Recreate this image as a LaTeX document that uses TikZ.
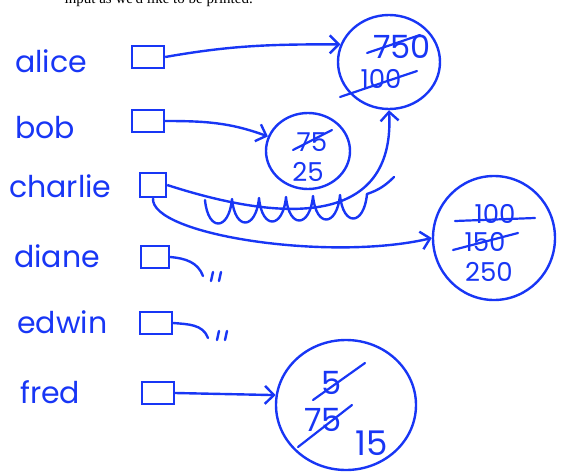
\documentclass[tikz,border=0pt]{standalone}
\usepackage{fontspec}
\newfontfamily\handfont{Poppins}
\newfontfamily\printfont{Liberation Serif}
\usetikzlibrary{
    arrows.meta,
    positioning,
    calc,
    shapes.geometric
}
\definecolor{pen}{RGB}{24,54,245}
\tikzset{
    namelab/.style={
        anchor=base west,
        inner sep=0pt,
        text=pen,
        font=\handfont\fontsize{30}{32}\selectfont
    },
    slot/.style={
        draw=pen,
        rectangle,
        minimum width=32pt,
        minimum height=22pt,
        inner sep=0pt,
        line width=2.4pt
    },
    cell/.style={
        draw=pen,
        ellipse,
        inner sep=0pt,
        line width=2.4pt
    },
    val/.style={
        text=pen,
        inner sep=0pt,
        font=\handfont\fontsize{26}{28}\selectfont
    },
    bigval/.style={
        val,
        font=\handfont\fontsize{32}{34}\selectfont
    },
    ptr/.style={
        draw=pen,
        -{Straight Barb[length=9pt,width=18pt]},
        line width=2.4pt
    },
    penline/.style={
        draw=pen,
        line width=2.4pt,
        line cap=round,
        line join=round
    },
    strike/.style={
        draw=pen,
        line width=2.2pt,
        line cap=round
    }
}

\begin{document}
\begin{tikzpicture}[x=1pt,y=-1pt]
\useasboundingbox (0,0) rectangle (568,474);

% text line cut off at the top
\begin{scope}
\clip (0,0) rectangle (568,7);
\node[anchor=base east, inner sep=0pt, font=\printfont\fontsize{15}{17}\selectfont] (caption) at (253,3) {input as we'd like to be printed.};
\end{scope}

% names
\node[namelab] (lalice) at (15,72) {alice};
\node[namelab] (lbob) at (15,138) {bob};
\node[namelab] (lcharlie) at (9,197) {charlie};
\node[namelab] (ldiane) at (14,267) {diane};
\node[namelab] (ledwin) at (17,333) {edwin};
\node[namelab] (lfred) at (20,403) {fred};

% slots
\node[slot] (balice) at (148,57) {};
\node[slot] (bbob) at (148,121) {};
\node[slot, minimum width=26pt, minimum height=24pt] (bcharlie) at (153,185) {};
\node[slot, minimum width=28pt] (bdiane) at (155,257) {};
\node[slot] (bedwin) at (156,323) {};
\node[slot] (bfred) at (158,393) {};

% value cells
\node[cell, minimum width=102pt, minimum height=94pt] (vA) at (389,62) {};
\node[cell, minimum width=84pt, minimum height=76pt] (vB) at (308,151) {};
\node[cell, minimum width=122pt, minimum height=124pt] (vC) at (494,238) {};
\node[cell, minimum width=140pt, minimum height=130pt] (vD) at (346,405) {};

% values, old ones struck out
\node[bigval] (a1) at (402,47) {750};
\node[val] (a2) at (381,79) {100};
\draw[strike] (367,53) -- (420,35);
\draw[strike] (340,97) -- (417,71);

\node[val] (b1) at (312,142) {75};
\node[val] (b2) at (308,172) {25};
\draw[strike] (293,150) -- (332,130);

\node[val] (c1) at (495,214) {100};
\node[val] (c2) at (485,242) {150};
\node[val] (c3) at (489,272) {250};
\draw[strike] (455,221) -- (535,218);
\draw[strike] (453,250) -- (518,233);

\node[bigval] (d1) at (332,383) {5};
\node[bigval] (d2) at (323,420) {75};
\node[bigval, font=\handfont\fontsize{34}{36}\selectfont] (d3) at (372,443) {15};
\draw[strike] (313,400) -- (365,363);
\draw[strike] (298,447) -- (352,405);

% pointers
\draw[ptr] (balice.east) to[out=10,in=180] (vA.160);
\draw[ptr] (bbob.east) to[out=0,in=160] (vB.160);
\draw[ptr] (bcharlie.south) .. controls (150,235) and (330,262) .. (vC.west);
\draw[ptr] (bcharlie.east) .. controls (300,228) and (395,218) .. (vA.south);
\draw[ptr] (bfred.east) -- (vD.172);

% scribble over the old pointer
\coordinate (scrA) at (205,200);
\coordinate (scrC) at (394,177);
\draw[penline] (scrA) \foreach \i in {1,...,6} { .. controls +(3,32) and +(-3,32) .. ++(27,-1) } coordinate (scrB);
\draw[penline] (scrB) .. controls +(12,-4) and +(-8,8) .. (scrC);

% dangling pointers
\coordinate (ddiane) at (203,276);
\draw[penline] (bdiane.east) to[out=-5,in=110] (ddiane);
\draw[penline] (213,272) -- (211,281);
\draw[penline] (221,272) -- (219,281);

\coordinate (dedwin) at (208,338);
\draw[penline] (bedwin.east) to[out=-5,in=110] (dedwin);
\draw[penline] (219,331) -- (217,340);
\draw[penline] (227,331) -- (225,340);

\end{tikzpicture}
\end{document}
